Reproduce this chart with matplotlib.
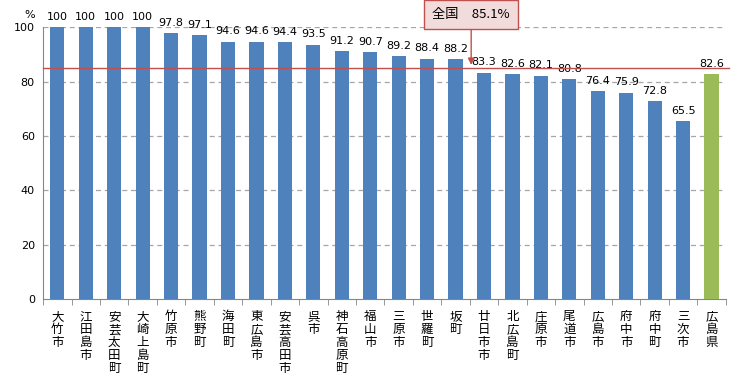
import numpy as np
import matplotlib.pyplot as plt

plt.rcParams['font.family'] = ['Noto Sans CJK JP', 'DejaVu Sans']

# data
names = ["大竹市", "江田島市", "安芸太田町", "大崎上島町", "竹原市", "熊野町", "海田町",
         "東広島市", "安芸高田市", "呉市", "神石高原町", "福山市", "三原市", "世羅町",
         "坂町", "廿日市市", "北広島町", "庄原市", "尾道市", "広島市", "府中市",
         "府中町", "三次市", "広島県"]
values = [100, 100, 100, 100, 97.8, 97.1, 94.6, 94.6, 94.4, 93.5, 91.2, 90.7,
          89.2, 88.4, 88.2, 83.3, 82.6, 82.1, 80.8, 76.4, 75.9, 72.8, 65.5, 82.6]
national = 85.1
yticks = [0, 20, 40, 60, 80, 100]

colors = ["#4F81BD"] * (len(names) - 1) + ["#9BBB59"]

fig = plt.figure(figsize=(7.56, 3.82), dpi=100)
ax = fig.add_axes([0.057, 0.217, 0.903, 0.712])

x = np.arange(len(names))
ax.bar(x, values, width=0.5, color=colors, zorder=3)

for xi, v in zip(x, values):
    ax.text(xi, v + 2, f"{v:g}", ha="center", va="bottom", fontsize=8,
            family="DejaVu Sans", zorder=4)

ax.set_xlim(-0.5, len(names) - 0.5)
ax.set_ylim(0, 100)
ax.set_yticks(yticks)
ax.set_yticklabels([str(t) for t in yticks], fontsize=8, family="DejaVu Sans")
ax.tick_params(axis="y", length=0, pad=6)

for t in yticks[1:]:
    ax.axhline(t, color="#A6A6A6", linestyle=(0, (4, 3)), linewidth=0.9, zorder=1)

ax.axhline(national, color="#C0504D", linewidth=1.0, zorder=5, xmax=1.005, clip_on=False)

# x tick labels, stacked vertically
ax.set_xticks(x)
ax.set_xticklabels(["\n".join(n) for n in names], fontsize=9, linespacing=1.0, va="top")
ax.tick_params(axis="x", length=0, pad=8)
ax.set_xticks(np.arange(len(names) + 1) - 0.5, minor=True)
ax.tick_params(axis="x", which="minor", length=4, color="#868686", direction="out")

for s in ["top", "right"]:
    ax.spines[s].set_visible(False)
ax.spines["left"].set_color("#868686")
ax.spines["bottom"].set_color("#868686")

ax.text(-0.012, 1.025, "%", transform=ax.transAxes, ha="right", va="bottom",
        fontsize=8, family="DejaVu Sans")

# national average callout
ax.annotate("全国　85.1%", xy=(14.55, national + 1), xytext=(14.55, 104.7),
            textcoords="data", ha="center", va="center", fontsize=9.5,
            annotation_clip=False,
            bbox=dict(boxstyle="square,pad=0.6", fc="#F2DCDB", ec="#C0504D", lw=1.0),
            arrowprops=dict(arrowstyle="-|>,head_length=0.4,head_width=0.2",
                            color="#C0504D", lw=1.0, shrinkA=0, shrinkB=0),
            zorder=6)

fig.savefig("out.png", dpi=100)
